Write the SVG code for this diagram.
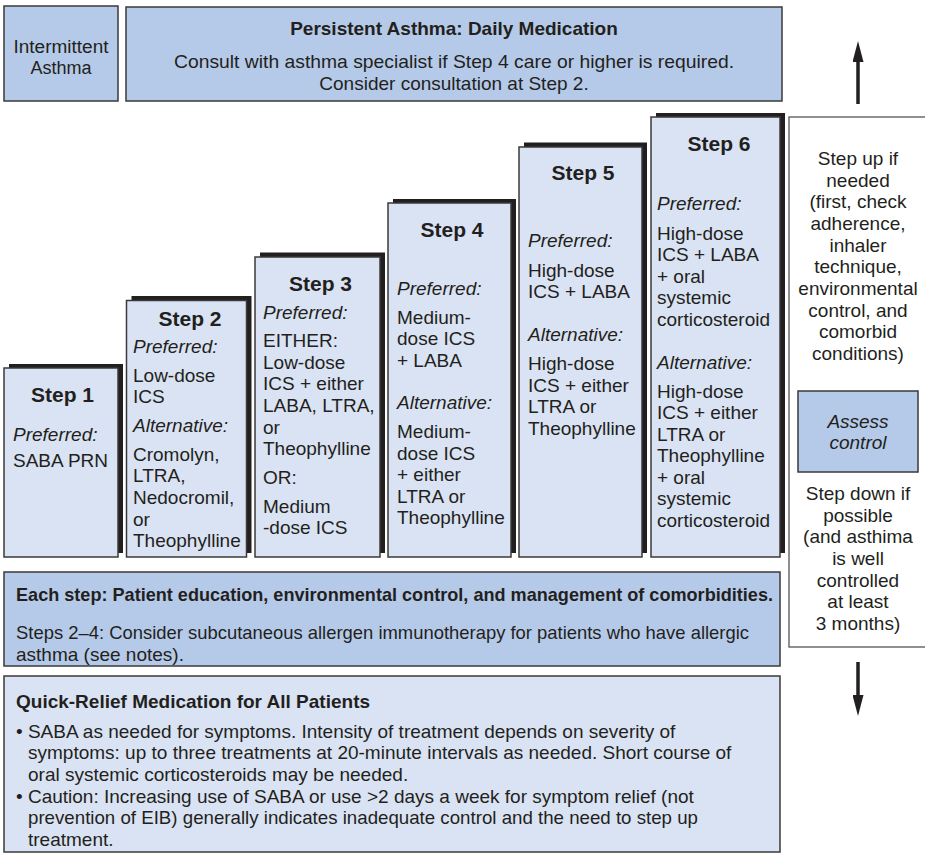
<svg xmlns="http://www.w3.org/2000/svg" width="925" height="855" viewBox="0 0 925 855">
<defs>
<style>
.t{font-family:"Liberation Sans",Arial,Helvetica,sans-serif;font-size:19px;fill:#231f20}
.b{font-weight:bold}
.i{font-style:italic}
.h{font-family:"Liberation Sans",Arial,Helvetica,sans-serif;font-size:21px;font-weight:bold;fill:#231f20;text-anchor:middle}
.c{text-anchor:middle}
.mid{fill:#b5cae8;stroke:#3a3a3a;stroke-width:1.5}
.lt{fill:#dae3f3;stroke:#3a3a3a;stroke-width:1.5}
.sh{fill:#231f20}
.wb{fill:#ffffff;stroke:#555555;stroke-width:1.3}
.arr{stroke:#231f20;stroke-width:3.5;fill:none}
</style>
<marker id="ah" markerUnits="userSpaceOnUse" markerWidth="21" markerHeight="11" refX="0" refY="5.5" orient="auto" viewBox="0 0 21 11">
<path d="M0,0 L21,5.5 L0,11 z" fill="#231f20"/>
</marker>
</defs>
<rect width="925" height="855" fill="#ffffff"/>

<g id="intermittent">
<rect class="mid" x="4" y="6" width="114" height="95"/>
<text class="t c" x="61" y="53" style="font-size:18px" textLength="95" lengthAdjust="spacingAndGlyphs">Intermittent</text>
<text class="t c" x="61" y="74" style="font-size:18px">Asthma</text>
</g>

<g id="persistent">
<rect class="mid" x="126" y="7" width="656" height="94"/>
<text class="t b c" x="454" y="35">Persistent Asthma: Daily Medication</text>
<text class="t c" x="454" y="68" textLength="560" lengthAdjust="spacingAndGlyphs">Consult with asthma specialist if Step 4 care or higher is required.</text>
<text class="t c" x="454" y="90">Consider consultation at Step 2.</text>
</g>

<g id="step1">
<rect class="sh" x="9" y="364" width="114" height="189"/>
<rect class="lt" x="4" y="368" width="114" height="189"/>
<text class="h" x="62.5" y="402">Step 1</text>
<text class="t i" x="13" y="441">Preferred:</text>
<text class="t" x="13" y="467">SABA PRN</text>
</g>

<g id="step2">
<rect class="sh" x="131.5" y="296" width="120" height="257"/>
<rect class="lt" x="126.5" y="300.5" width="120" height="256.5"/>
<text class="h" x="190" y="326">Step 2</text>
<text class="t i" x="133" y="352.5">Preferred:</text>
<text class="t" x="133" y="381.5">Low-dose</text>
<text class="t" x="133" y="403">ICS</text>
<text class="t i" x="133" y="431.5">Alternative:</text>
<text class="t" x="133" y="460.5">Cromolyn,</text>
<text class="t" x="133" y="482">LTRA,</text>
<text class="t" x="133" y="504">Nedocromil,</text>
<text class="t" x="133" y="525.5">or</text>
<text class="t" x="133" y="547">Theophylline</text>
</g>

<g id="step3">
<rect class="sh" x="260" y="252.5" width="125" height="300.5"/>
<rect class="lt" x="255" y="257" width="125" height="300"/>
<text class="h" x="320.5" y="291">Step 3</text>
<text class="t i" x="263" y="318.5">Preferred:</text>
<text class="t" x="263" y="347">EITHER:</text>
<text class="t" x="263" y="368.5">Low-dose</text>
<text class="t" x="263" y="390">ICS + either</text>
<text class="t" x="263" y="412">LABA, LTRA,</text>
<text class="t" x="263" y="433.5">or</text>
<text class="t" x="263" y="455">Theophylline</text>
<text class="t" x="263" y="484">OR:</text>
<text class="t" x="263" y="512.5">Medium</text>
<text class="t" x="263" y="534">-dose ICS</text>
</g>

<g id="step4">
<rect class="sh" x="393" y="199" width="123" height="354"/>
<rect class="lt" x="388" y="203" width="123" height="354"/>
<text class="h" x="452" y="237">Step 4</text>
<text class="t i" x="397" y="294.5">Preferred:</text>
<text class="t" x="397" y="323.5">Medium-</text>
<text class="t" x="397" y="345">dose ICS</text>
<text class="t" x="397" y="366.5">+ LABA</text>
<text class="t i" x="397" y="409">Alternative:</text>
<text class="t" x="397" y="438">Medium-</text>
<text class="t" x="397" y="459.5">dose ICS</text>
<text class="t" x="397" y="481">+ either</text>
<text class="t" x="397" y="502.5">LTRA or</text>
<text class="t" x="397" y="524">Theophylline</text>
</g>

<g id="step5">
<rect class="sh" x="524" y="142.5" width="123" height="410.5"/>
<rect class="lt" x="519" y="147" width="123" height="410"/>
<text class="h" x="583" y="180">Step 5</text>
<text class="t i" x="528" y="247">Preferred:</text>
<text class="t" x="528" y="276.5">High-dose</text>
<text class="t" x="528" y="298">ICS + LABA</text>
<text class="t i" x="528" y="341">Alternative:</text>
<text class="t" x="528" y="370">High-dose</text>
<text class="t" x="528" y="391.5">ICS + either</text>
<text class="t" x="528" y="413">LTRA or</text>
<text class="t" x="528" y="434.5">Theophylline</text>
</g>

<g id="step6">
<rect class="sh" x="656" y="113" width="129" height="440"/>
<rect class="lt" x="651" y="117" width="129" height="440"/>
<text class="h" x="719" y="151">Step 6</text>
<text class="t i" x="657" y="210">Preferred:</text>
<text class="t" x="657" y="239.5">High-dose</text>
<text class="t" x="657" y="261">ICS + LABA</text>
<text class="t" x="657" y="282.5">+ oral</text>
<text class="t" x="657" y="304">systemic</text>
<text class="t" x="657" y="325.5">corticosteroid</text>
<text class="t i" x="657" y="369">Alternative:</text>
<text class="t" x="657" y="397.5">High-dose</text>
<text class="t" x="657" y="419">ICS + either</text>
<text class="t" x="657" y="440.5">LTRA or</text>
<text class="t" x="657" y="462">Theophylline</text>
<text class="t" x="657" y="483.5">+ oral</text>
<text class="t" x="657" y="505">systemic</text>
<text class="t" x="657" y="526.5">corticosteroid</text>
</g>

<g id="adjust">
<rect class="wb" x="789" y="117" width="140" height="530"/>
<text class="t c" x="858" y="165">Step up if</text>
<text class="t c" x="858" y="186.7">needed</text>
<text class="t c" x="858" y="208.3">(first, check</text>
<text class="t c" x="858" y="230">adherence,</text>
<text class="t c" x="858" y="251.7">inhaler</text>
<text class="t c" x="858" y="273.3">technique,</text>
<text class="t c" x="858" y="295">environmental</text>
<text class="t c" x="858" y="316.7">control, and</text>
<text class="t c" x="858" y="338.3">comorbid</text>
<text class="t c" x="858" y="360">conditions)</text>
<text class="t c" x="858" y="500">Step down if</text>
<text class="t c" x="858" y="521.7">possible</text>
<text class="t c" x="858" y="543.3">(and asthima</text>
<text class="t c" x="858" y="565">is well</text>
<text class="t c" x="858" y="586.7">controlled</text>
<text class="t c" x="858" y="608.3">at least</text>
<text class="t c" x="858" y="630">3 months)</text>
</g>

<g id="assess">
<rect class="mid" x="798" y="391" width="120" height="81"/>
<text class="t i c" x="858" y="428">Assess</text>
<text class="t i c" x="858" y="448.5">control</text>
</g>

<g id="each-step">
<rect class="mid" x="4" y="572" width="776" height="94"/>
<text class="t b" x="16" y="601" textLength="757" lengthAdjust="spacingAndGlyphs">Each step: Patient education, environmental control, and management of comorbidities.</text>
<text class="t" x="16" y="639" textLength="733" lengthAdjust="spacingAndGlyphs">Steps 2–4: Consider subcutaneous allergen immunotherapy for patients who have allergic</text>
<text class="t" x="16" y="660.5">asthma (see notes).</text>
</g>

<g id="quick-relief">
<rect class="lt" x="4" y="676" width="776" height="176"/>
<text class="t b" x="16" y="708">Quick-Relief Medication for All Patients</text>
<text class="t" x="16" y="737.7">• SABA as needed for symptoms. Intensity of treatment depends on severity of</text>
<text class="t" x="28" y="759.3">symptoms: up to three treatments at 20-minute intervals as needed. Short course of</text>
<text class="t" x="28" y="781">oral systemic corticosteroids may be needed.</text>
<text class="t" x="16" y="802.7">• Caution: Increasing use of SABA or use &gt;2 days a week for symptom relief (not</text>
<text class="t" x="28" y="824.3" textLength="670" lengthAdjust="spacingAndGlyphs">prevention of EIB) generally indicates inadequate control and the need to step up</text>
<text class="t" x="28" y="846">treatment.</text>
</g>

<g id="connectors">
<line class="arr" x1="858" y1="104" x2="858" y2="62" marker-end="url(#ah)"/>
<line class="arr" x1="858" y1="662" x2="858" y2="695" marker-end="url(#ah)"/>
</g>
</svg>
